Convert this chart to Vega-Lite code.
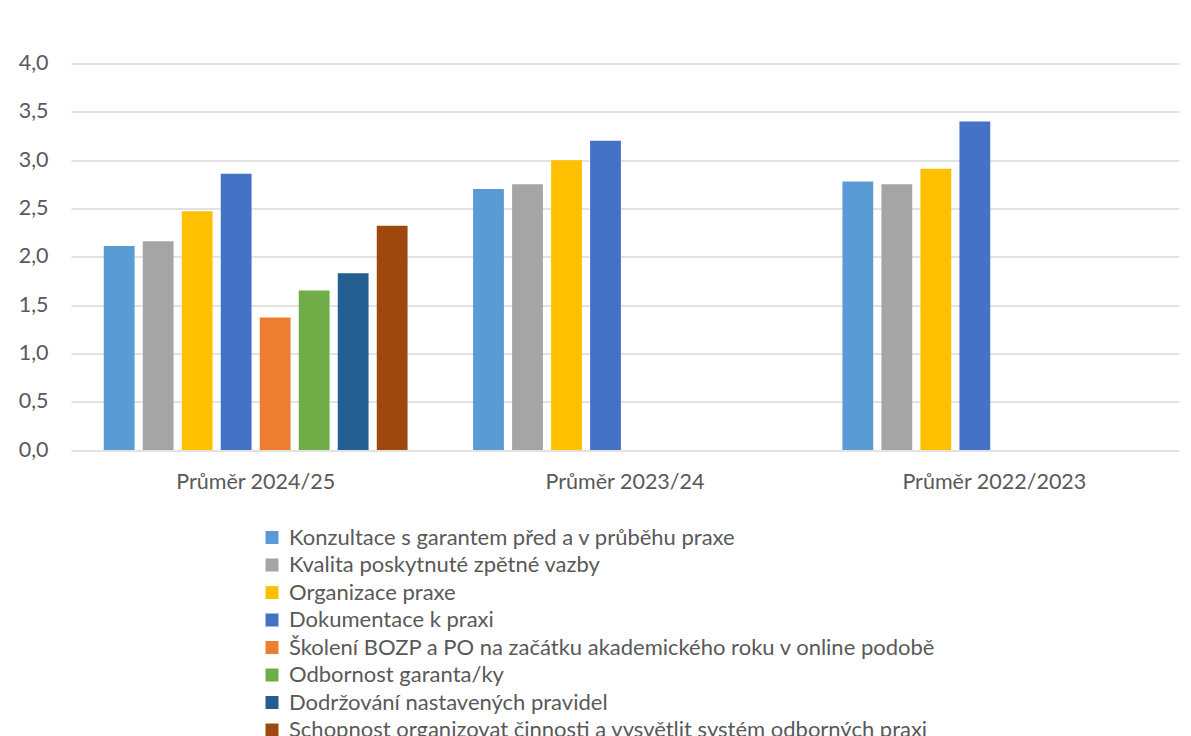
{
  "$schema": "https://vega.github.io/schema/vega-lite/v6.json",
  "autosize": {"type": "none"},
  "width": 1108,
  "height": 386.5,
  "padding": {"left": 71, "top": 63.5, "right": 12, "bottom": 286},
  "background": "white",
  "config": {"view": {"stroke": null}, "font": "Lato"},
  "data": {
    "values": [
      {"group": "Průměr 2024/25", "series": "Konzultace s garantem  před a v průběhu praxe", "value": 2.11},
      {"group": "Průměr 2024/25", "series": "Kvalita poskytnuté zpětné vazby", "value": 2.16},
      {"group": "Průměr 2024/25", "series": "Organizace praxe", "value": 2.47},
      {"group": "Průměr 2024/25", "series": "Dokumentace k praxi", "value": 2.86},
      {"group": "Průměr 2024/25", "series": "Školení BOZP a PO na začátku akademického roku v online podobě", "value": 1.37},
      {"group": "Průměr 2024/25", "series": "Odbornost garanta/ky", "value": 1.65},
      {"group": "Průměr 2024/25", "series": "Dodržování nastavených pravidel", "value": 1.83},
      {"group": "Průměr 2024/25", "series": "Schopnost organizovat činnosti a vysvětlit systém odborných praxi", "value": 2.32},
      {"group": "Průměr 2023/24", "series": "Konzultace s garantem  před a v průběhu praxe", "value": 2.70},
      {"group": "Průměr 2023/24", "series": "Kvalita poskytnuté zpětné vazby", "value": 2.75},
      {"group": "Průměr 2023/24", "series": "Organizace praxe", "value": 3.00},
      {"group": "Průměr 2023/24", "series": "Dokumentace k praxi", "value": 3.20},
      {"group": "Průměr 2022/2023", "series": "Konzultace s garantem  před a v průběhu praxe", "value": 2.78},
      {"group": "Průměr 2022/2023", "series": "Kvalita poskytnuté zpětné vazby", "value": 2.75},
      {"group": "Průměr 2022/2023", "series": "Organizace praxe", "value": 2.91},
      {"group": "Průměr 2022/2023", "series": "Dokumentace k praxi", "value": 3.40}
    ]
  },
  "mark": {"type": "bar"},
  "encoding": {
    "x": {
      "field": "group", "type": "nominal",
      "sort": ["Průměr 2024/25", "Průměr 2023/24", "Průměr 2022/2023"],
      "scale": {"paddingInner": 0, "paddingOuter": 0},
      "axis": {"title": null, "labelAngle": 0, "domain": false, "ticks": false, "tickSize": 0, "labelFontSize": 21.5, "labelColor": "#595959", "labelPadding": 21, "labelLimit": 0}
    },
    "xOffset": {
      "field": "series", "type": "nominal",
      "scale": {
        "domain": ["Konzultace s garantem  před a v průběhu praxe", "Kvalita poskytnuté zpětné vazby", "Organizace praxe", "Dokumentace k praxi", "Školení BOZP a PO na začátku akademického roku v online podobě", "Odbornost garanta/ky", "Dodržování nastavených pravidel", "Schopnost organizovat činnosti a vysvětlit systém odborných praxi"],
        "paddingInner": 0.21, "paddingOuter": 0.84
      }
    },
    "y": {
      "field": "value", "type": "quantitative",
      "scale": {"domain": [0, 4], "nice": false},
      "axis": {"title": null, "values": [0, 0.5, 1, 1.5, 2, 2.5, 3, 3.5, 4], "format": ".1f", "labelExpr": "replace(datum.label, '.', ',')", "grid": true, "gridColor": "#D9D9D9", "gridWidth": 1.3, "domain": false, "ticks": false, "tickSize": 0, "labelPadding": 23, "labelFontSize": 21.5, "labelColor": "#595959"}
    },
    "color": {
      "field": "series", "type": "nominal",
      "scale": {
        "domain": ["Konzultace s garantem  před a v průběhu praxe", "Kvalita poskytnuté zpětné vazby", "Organizace praxe", "Dokumentace k praxi", "Školení BOZP a PO na začátku akademického roku v online podobě", "Odbornost garanta/ky", "Dodržování nastavených pravidel", "Schopnost organizovat činnosti a vysvětlit systém odborných praxi"],
        "range": ["#5B9BD5", "#A5A5A5", "#FFC000", "#4472C4", "#ED7D31", "#70AD47", "#255E91", "#9E480E"]
      },
      "legend": {"title": null, "orient": "none", "legendX": 190, "legendY": 463, "padding": 0, "symbolType": "square", "symbolSize": 169, "symbolStrokeWidth": 0, "symbolOpacity": 1, "labelFontSize": 22, "labelColor": "#595959", "labelOffset": 6, "rowPadding": 5.5, "labelLimit": 0}
    }
  }
}
